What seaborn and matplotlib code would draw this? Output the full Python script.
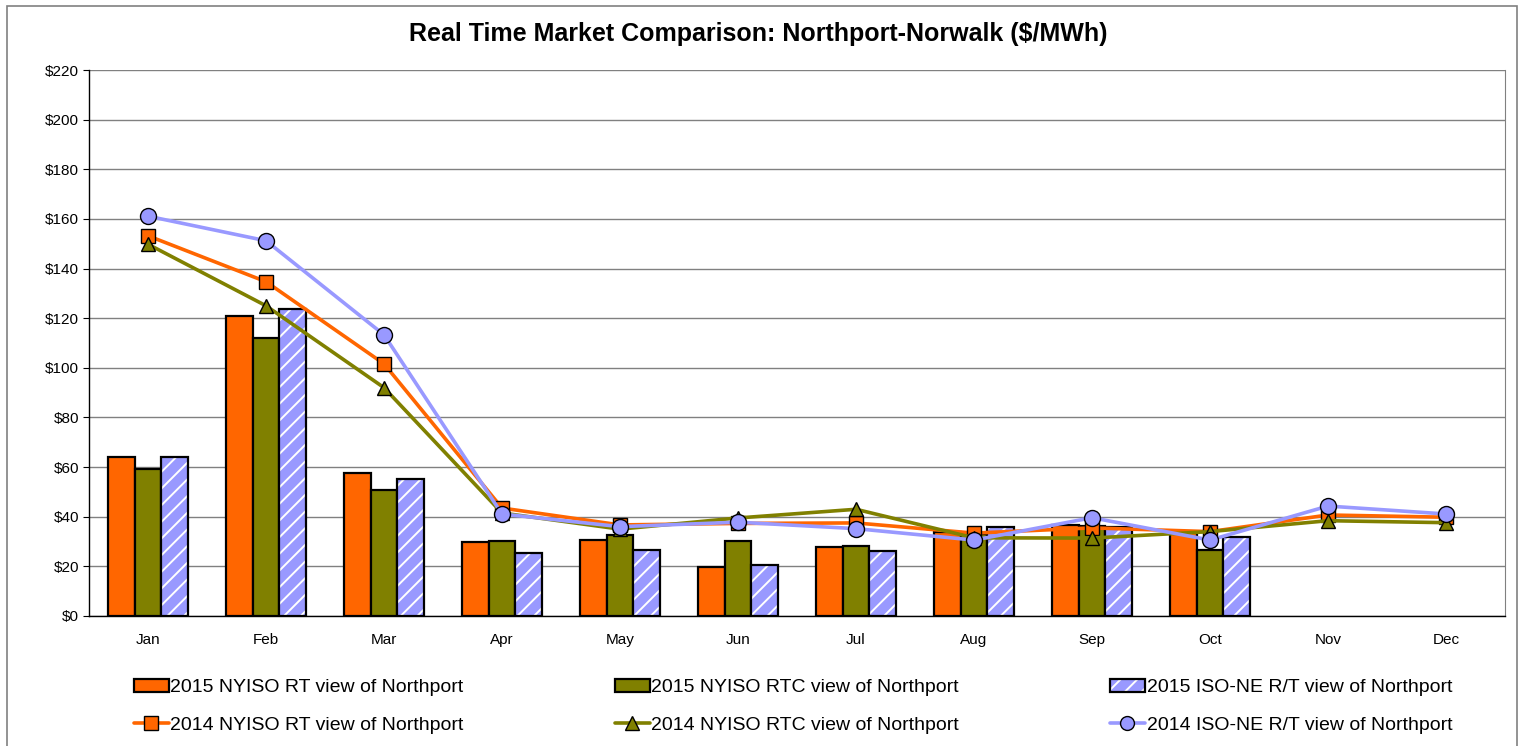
import matplotlib
matplotlib.use('Agg')
import matplotlib.pyplot as plt
from matplotlib.patches import Patch, Rectangle
from matplotlib.lines import Line2D
from matplotlib.ticker import FuncFormatter, MultipleLocator
import seaborn as sns
import pandas as pd
import numpy as np

# 月份
months = ['Jan', 'Feb', 'Mar', 'Apr', 'May', 'Jun', 'Jul', 'Aug', 'Sep', 'Oct', 'Nov', 'Dec']
bar_months = months[:10]  # 2015 只有 Jan-Oct

# 2015 柱状数据
rt_2015 = [64.1, 121.0, 57.5, 30.0, 30.8, 19.8, 27.9, 34.0, 36.6, 34.0]
rtc_2015 = [59.3, 112.0, 50.7, 30.4, 32.7, 30.2, 28.4, 33.0, 36.2, 26.6]
iso_2015 = [64.0, 123.8, 55.2, 25.4, 26.6, 20.4, 26.2, 35.9, 35.9, 31.7]

# 2014 折线数据
rt_2014 = [153.2, 134.7, 101.6, 43.5, 36.7, 37.3, 37.5, 33.4, 35.5, 34.0, 40.7, 39.8]
rtc_2014 = [149.8, 125.0, 92.0, 41.5, 35.0, 39.5, 43.0, 31.5, 31.4, 34.0, 38.4, 37.6]
iso_2014 = [161.1, 151.2, 113.3, 41.1, 36.0, 37.8, 35.2, 30.6, 39.6, 30.6, 44.3, 41.1]

bar_names = ['2015 NYISO RT view of Northport', '2015 NYISO RTC view of Northport',
             '2015 ISO-NE R/T view of Northport']
line_names = ['2014 NYISO RT view of Northport', '2014 NYISO RTC view of Northport',
              '2014 ISO-NE R/T view of Northport']
colors = ['#FF6600', '#808000', '#9999FF']

df_bars = pd.DataFrame({
    'month': bar_months * 3,
    'value': rt_2015 + rtc_2015 + iso_2015,
    'series': sum([[n] * len(bar_months) for n in bar_names], []),
})
df_lines = pd.DataFrame({
    'month': months * 3,
    'value': rt_2014 + rtc_2014 + iso_2014,
    'series': sum([[n] * len(months) for n in line_names], []),
})

sns.set_style('white')
plt.rcParams['font.family'] = ['Liberation Sans', 'DejaVu Sans']
plt.rcParams['hatch.linewidth'] = 1.4
plt.rcParams['text.color'] = 'black'
plt.rcParams['xtick.labelcolor'] = 'black'
plt.rcParams['ytick.labelcolor'] = 'black'

fig = plt.figure(figsize=(15.23, 7.46), dpi=100)
ax = fig.add_axes([89 / 1523, 1 - 616 / 746, (1505 - 89) / 1523, (616 - 70) / 746])

# 柱状图
sns.barplot(data=df_bars, x='month', y='value', hue='series', order=months, hue_order=bar_names,
            palette=colors, saturation=1, edgecolor='black', linewidth=1.6, width=0.67,
            errorbar=None, legend=False, ax=ax, zorder=2)

# ISO-NE 柱子：白色斜纹 + 黑色外框
for p in ax.containers[2].patches:
    p.set_facecolor(colors[2])
    p.set_edgecolor('white')
    p.set_linewidth(0)
    p.set_hatch('//')
    ax.add_patch(Rectangle(p.get_xy(), p.get_width(), p.get_height(), fill=False,
                           edgecolor='black', linewidth=1.6, zorder=2.1))

# 折线图
sns.pointplot(data=df_lines, x='month', y='value', hue='series', order=months, hue_order=line_names,
              palette=colors, markers=['s', '^', 'o'], linestyles='-', errorbar=None,
              markersize=10, linewidth=2.6, markeredgecolor='black', markeredgewidth=1.0,
              legend=False, ax=ax)
for ln in ax.lines:
    ln.set_markeredgecolor('black')
    ln.set_markeredgewidth(1.0)
    ln.set_zorder(3)
ax.lines[2].set_markersize(11.5)

# 坐标轴
ax.set_xlim(-0.5, 11.5)
ax.set_ylim(0, 220)
ax.yaxis.set_major_locator(MultipleLocator(20))
ax.yaxis.set_major_formatter(FuncFormatter(lambda v, pos: '${:.0f}'.format(v)))
ax.grid(axis='y', color='#808080', linewidth=1.0, zorder=0)
ax.set_axisbelow(True)
ax.set_xlabel('')
ax.set_ylabel('')
ax.tick_params(axis='y', labelsize=11, length=4, color='black', pad=3)
ax.tick_params(axis='x', which='major', labelsize=11, length=0, pad=12)
ax.set_xticks(np.arange(-0.5, 12, 1), minor=True)
ax.tick_params(axis='x', which='minor', length=4, color='#808080')
ax.yaxis.set_tick_params(left=True)
ax.spines['top'].set_visible(False)
ax.spines['right'].set_color('#808080')
ax.spines['left'].set_color('black')
ax.spines['bottom'].set_color('black')
ax.spines['left'].set_linewidth(1.0)
ax.spines['bottom'].set_linewidth(1.0)

fig.suptitle('Real Time Market Comparison: Northport-Norwalk ($/MWh)', x=0.498, y=0.970,
             fontsize=18, fontweight='bold')

# 图例
handles = []
labels = []
for i in range(3):
    if i == 2:
        hb = (Patch(facecolor=colors[i], edgecolor='white', hatch='//', linewidth=0),
              Patch(fill=False, edgecolor='black', linewidth=1.6))
    else:
        hb = Patch(facecolor=colors[i], edgecolor='black', linewidth=1.6)
    hl = Line2D([], [], color=colors[i], linewidth=2.6, marker=['s', '^', 'o'][i],
                markersize=10, markerfacecolor=colors[i], markeredgecolor='black')
    handles += [hb, hl]
    labels += [bar_names[i], line_names[i]]
fig.legend(handles, labels, loc='lower left', ncol=3, mode='expand',
           bbox_to_anchor=(116 / 1523, -5 / 746, (1470 - 116) / 1523, 0.12),
           frameon=False, fontsize=14, handlelength=1.8, handletextpad=0.1,
           labelspacing=1.0)

# 外框
fig.add_artist(Rectangle((7 / 1523, -0.05), (1517 - 7) / 1523, 1.05 - 6 / 746,
                         transform=fig.transFigure, fill=False, edgecolor='#808080', linewidth=1.2))

fig.savefig('out.png', dpi=100, facecolor='white')
